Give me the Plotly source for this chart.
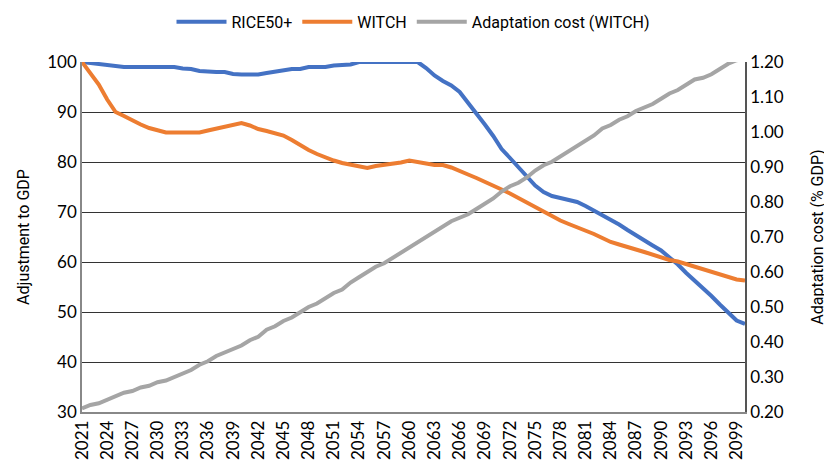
import plotly.graph_objects as go

years = list(range(2021, 2101))

rice50 = [100, 99.8, 99.5, 99.4, 99.1, 99, 99, 99, 99, 99,
          99, 99, 98.7, 98.6, 98.2, 98, 98, 98, 97.6, 97.5,
          97.5, 97.5, 97.8, 98.1, 98.2, 98.6, 98.6, 99, 99, 99,
          99.3, 99.5, 99.5, 100, 100, 100, 100, 100, 100, 100,
          100, 98.8, 97.3, 96.2, 95.3, 94, 91.9, 89.8, 87.5, 85.2,
          82.6, 80.8, 79, 77.2, 75.3, 74, 73.2, 72.8, 72.4, 72,
          71.2, 70.3, 69.4, 68.4, 67.5, 66.4, 65.3, 64.4, 63.3, 62.3,
          60.9, 59.5, 57.8, 56.3, 54.8, 53.2, 51.5, 49.8, 48.3, 47.6]

witch = [100, 97.8, 95.5, 92.5, 90, 89.2, 88.3, 87.5, 86.8, 86.3,
         85.9, 85.9, 85.9, 85.9, 85.9, 86.3, 86.7, 87.1, 87.5, 87.8,
         87.3, 86.6, 86.2, 85.8, 85.3, 84.4, 83.3, 82.4, 81.6, 80.9,
         80.3, 79.8, 79.4, 79, 78.8, 79.2, 79.4, 79.5, 79.9, 80.3,
         79.9, 79.7, 79.4, 79.4, 78.9, 78.1, 77.5, 76.8, 76.1, 75.3,
         74.5, 73.7, 72.8, 71.7, 70.8, 70, 69, 68.3, 67.6, 67,
         66.3, 65.6, 64.8, 64, 63.5, 63.1, 62.5, 62, 61.4, 60.8,
         60.4, 60.1, 59.6, 59.2, 58.7, 58.1, 57.6, 57.1, 56.5, 56.3]

adapt_cost = [0.21, 0.22, 0.225, 0.235, 0.245, 0.255, 0.26, 0.27, 0.275, 0.285,
              0.29, 0.30, 0.31, 0.32, 0.335, 0.345, 0.36, 0.37, 0.38, 0.39,
              0.405, 0.415, 0.435, 0.445, 0.46, 0.47, 0.485, 0.50, 0.51, 0.525,
              0.54, 0.55, 0.57, 0.585, 0.60, 0.615, 0.625, 0.64, 0.655, 0.67,
              0.685, 0.70, 0.715, 0.73, 0.745, 0.755, 0.765, 0.78, 0.795, 0.81,
              0.83, 0.845, 0.855, 0.87, 0.89, 0.905, 0.915, 0.93, 0.945, 0.96,
              0.975, 0.99, 1.01, 1.02, 1.035, 1.045, 1.06, 1.07, 1.08, 1.095,
              1.11, 1.12, 1.135, 1.15, 1.155, 1.165, 1.18, 1.195, 1.205, 1.21]

year_ticks = list(range(2021, 2100, 3))

tick_font = dict(family='Lato, Carlito, sans-serif', size=17, color='#000')
title_font = dict(family='Liberation Sans Narrow, Roboto, sans-serif', size=16, color='#000')

fig = go.Figure()
fig.add_scatter(x=years, y=rice50, name='RICE50+', mode='lines',
                line=dict(color='#4472C4', width=4))
fig.add_scatter(x=years, y=witch, name='WITCH', mode='lines',
                line=dict(color='#ED7D31', width=4))
fig.add_scatter(x=years, y=adapt_cost, name='Adaptation cost (WITCH)', mode='lines',
                line=dict(color='#A5A5A5', width=4), yaxis='y2')

# page has an 8px body margin, so the margins are shifted to put the plot area where the original has it
fig.update_layout(
    width=832, height=470,
    margin=dict(l=74, r=95, t=54, b=66, autoexpand=False),
    paper_bgcolor='white', plot_bgcolor='white',
    showlegend=True,
    legend=dict(orientation='h', x=0.5, xanchor='center', y=1.115, yanchor='middle',
                font=title_font, itemwidth=50, traceorder='normal'),
    xaxis=dict(range=[2021, 2100], tickvals=year_ticks, ticktext=[str(y) for y in year_ticks],
               tickangle=-90, tickfont=tick_font, showgrid=False, ticks='',
               showline=True, linecolor='#888', linewidth=1.5, zeroline=False),
    yaxis=dict(range=[30, 100], dtick=10, tickfont=tick_font, showgrid=True,
               gridcolor='#333', gridwidth=1, showline=True, linecolor='#888',
               linewidth=1.5, zeroline=False, ticks='',
               title=dict(text='Adjustment to GDP', font=title_font, standoff=14)),
    yaxis2=dict(range=[0.2, 1.2], dtick=0.1, tickformat='.2f', overlaying='y', side='right',
                tickfont=tick_font, showgrid=False, showline=True, linecolor='#555',
                linewidth=1.5, zeroline=False, ticks='',
                title=dict(text='Adaptation cost (% GDP)', font=title_font, standoff=29)),
)

fig.write_html("out.html")
